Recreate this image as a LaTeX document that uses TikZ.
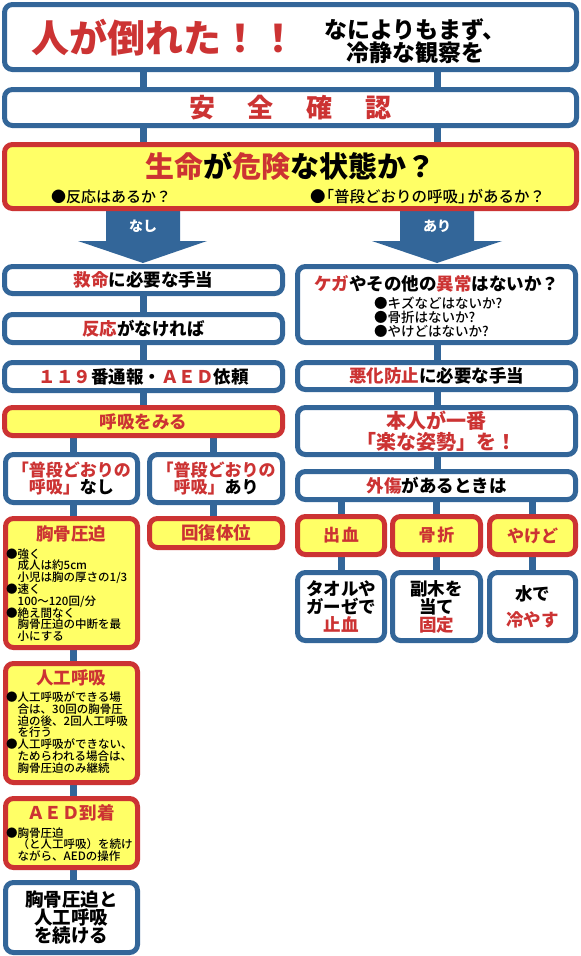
\documentclass[tikz,border=0pt]{standalone}
\usepackage{fontspec}
\setmainfont{Noto Sans CJK JP}
\IfFontExistsTF{Noto Sans CJK JP Black}{\newfontfamily\heavyfam{Noto Sans CJK JP Black}\newcommand\heavyw{\heavyfam}}{\newcommand\heavyw{\bfseries}}
\IfFontExistsTF{Noto Sans CJK JP Medium}{\newfontfamily\medfam{Noto Sans CJK JP Medium}\newcommand\medw{\medfam}}{\newcommand\medw{}}
\usetikzlibrary{backgrounds}
\definecolor{bl}{RGB}{51,102,153}
\definecolor{rd}{RGB}{204,51,51}
\definecolor{yl}{RGB}{255,255,102}
\newcommand\fsz[2]{\fontsize{#1pt}{#2pt}\selectfont}
\newcommand\rt[1]{\textcolor{rd}{#1}}
\begin{document}
\begin{tikzpicture}[x=1pt,y=-1pt,
  bbox/.style={draw=bl, fill=white, line width=5pt, rounded corners=8pt, inner sep=0pt, align=center},
  rbox/.style={draw=rd, fill=yl, line width=5pt, rounded corners=8pt, inner sep=0pt, align=center},
  conn/.style={draw=bl, line width=7pt},
  lbl/.style={inner sep=0pt, align=center},
  lblL/.style={inner sep=0pt, align=left, anchor=west},
  ttl/.style={lbl, font=\heavyw\fsz{17.5}{18}},
  bul/.style={lblL, font=\medw\fsz{11.5}{11.8}},
]
\useasboundingbox (0,0) rectangle (581,956);

% ---------- top ----------
\node[bbox, minimum width=572, minimum height=65] (top) at (290.5,37) {};
\node[lbl, text=rd, font=\heavyw\fsz{38}{38}] (topT) at (164,38) {人が倒れた！！};
\node[lbl, font=\heavyw\fsz{23}{22}] (topR) at (415,41) {なによりもまず、\\冷静な観察を};

\node[bbox, minimum width=572, minimum height=36, text=rd, font=\heavyw\fsz{26}{26}] (safe) at (290.5,107.5)
  {安\hspace{33pt}全\hspace{33pt}確\hspace{33pt}認};

\node[rbox, minimum width=572, minimum height=64] (life) at (290.5,176.5) {};
\node[lbl, font=\heavyw\fsz{29}{29}] (lifeT) at (290,166) {\rt{生命}が\rt{危険}な状態か？};
\node[lblL, font=\medw\fsz{15}{15}] (lifeA) at (51,197) {●反応はあるか？};
\node[lblL, font=\medw\fsz{15.5}{15.5}] (lifeB) at (310,197) {●\kern-0.45em「普段どおりの呼吸」\kern-0.4em があるか？};

% ---------- left column ----------
\node[bbox, minimum width=278, minimum height=27, font=\heavyw\fsz{17.5}{18}] (kyumei) at (143.5,280) {\rt{救命}に必要な手当};
\node[bbox, minimum width=278, minimum height=28, font=\heavyw\fsz{17.5}{18}] (hanno) at (143.5,328.5) {\rt{反応}がなければ};
\node[bbox, minimum width=278, minimum height=28, font=\heavyw\fsz{17.5}{18}] (tsuho) at (143.5,376.5) {\rt{１１９}番通報・\rt{ＡＥＤ}依頼};
\node[rbox, minimum width=278, minimum height=28, text=rd, font=\heavyw\fsz{17.5}{18}] (kokyu) at (143.5,421.5) {呼吸をみる};

\node[bbox, minimum width=132, minimum height=48, font=\heavyw\fsz{17}{17.5}] (nashi) at (71.5,478.5) {\rt{「普段どおりの}\\\rt{呼吸」}なし};
\node[bbox, minimum width=133, minimum height=48, font=\heavyw\fsz{17}{17.5}] (ari) at (216,478.5) {\rt{「普段どおりの}\\\rt{呼吸」}あり};

\node[rbox, minimum width=132, minimum height=129] (kyoko) at (71.5,583) {};
\node[ttl, text=rd] (kyokoT) at (71,534) {胸骨圧迫};
\node[bul] (kyokoB) at (6,595) {●強く\\
\hspace*{1em}成人は約5cm\\
\hspace*{1em}小児は胸の厚さの1/3\\
●速く\\
\hspace*{1em}100〜120回/分\\
●絶え間なく\\
\hspace*{1em}胸骨圧迫の中断を最\\
\hspace*{1em}小にする};

\node[rbox, minimum width=133, minimum height=29, text=rd, font=\heavyw\fsz{17.5}{18}] (kaifuku) at (216,533) {回復体位};

\node[rbox, minimum width=132, minimum height=119] (jinko) at (71.5,723) {};
\node[ttl, text=rd] (jinkoT) at (71,678) {人工呼吸};
\node[bul] (jinkoB) at (6,732.5) {●人工呼吸ができる場\\
\hspace*{1em}合は、30回の胸骨圧\\
\hspace*{1em}迫の後、2回人工呼吸\\
\hspace*{1em}を行う\\
●人工呼吸ができない、\\
\hspace*{1em}ためらわれる場合は、\\
\hspace*{1em}胸骨圧迫のみ継続};

\node[rbox, minimum width=132, minimum height=69] (aed) at (71.5,833) {};
\node[ttl, text=rd] (aedT) at (71,813) {ＡＥＤ到着};
\node[bul] (aedB) at (6,844.5) {●胸骨圧迫\\
\hspace*{1em}（と人工呼吸）を続け\\
\hspace*{1em}ながら、AEDの操作};

\node[bbox, minimum width=132, minimum height=70, font=\heavyw\fsz{18.5}{18}] (final) at (71.5,917.5) {胸骨圧迫と\\人工呼吸\\を続ける};

% ---------- right column ----------
\node[bbox, minimum width=278, minimum height=76] (kega) at (436.5,304.5) {};
\node[ttl] (kegaT) at (436.5,284) {\rt{ケガ}やその他の\rt{異常}はないか？};
\node[lblL, font=\medw\fsz{13.5}{14}] (kegaB) at (374,317.5) {●キズなどはないか?\\●骨折はないか?\\●やけどはないか?};

\node[bbox, minimum width=278, minimum height=27, font=\heavyw\fsz{17.5}{18}] (akka) at (436.5,376) {\rt{悪化防止}に必要な手当};
\node[bbox, minimum width=278, minimum height=47, text=rd, font=\heavyw\fsz{20}{21}] (honnin) at (436.5,431) {本人が一番\\「楽な姿勢」を！};
\node[bbox, minimum width=278, minimum height=28, font=\heavyw\fsz{17.5}{18}] (gaisho) at (436.5,485.5) {\rt{外傷}があるときは};

\node[rbox, minimum width=87, minimum height=38, text=rd, font=\heavyw\fsz{17}{17}] (shu) at (341,535.5) {出\hspace{2pt}血};
\node[rbox, minimum width=88, minimum height=38, text=rd, font=\heavyw\fsz{17}{17}] (kos) at (436.5,535.5) {骨\hspace{2pt}折};
\node[rbox, minimum width=86, minimum height=38, text=rd, font=\heavyw\fsz{17}{17}] (yak) at (532.5,535.5) {やけど};

\node[bbox, minimum width=87, minimum height=68, font=\heavyw\fsz{17.5}{18}] (shuT) at (341,606.5) {タオルや\\ガーゼで\\\rt{止血}};
\node[bbox, minimum width=88, minimum height=68, font=\heavyw\fsz{17.5}{18}] (kosT) at (436.5,606.5) {副木を\\当て\\\rt{固定}};
\node[bbox, minimum width=86, minimum height=68, font=\heavyw\fsz{17.5}{18}] (yakT) at (532.5,606.5) {水で\\[8pt]\rt{冷やす}};

% ---------- connectors & arrows ----------
\coordinate (cL) at (143,0);
\coordinate (cR) at (437,0);
\coordinate (cLa) at (73,0);
\coordinate (cLb) at (213,0);

\node[lbl, text=white, font=\bfseries\fsz{14}{14}] (nashiL) at (143,226) {なし};
\node[lbl, text=white, font=\bfseries\fsz{14}{14}] (ariL) at (437,226) {あり};

\begin{pgfonlayer}{background}
\fill[white] (0,0) rectangle (581,956);
\draw[conn] (top.south -| cL) -- (safe.north -| cL);
\draw[conn] (top.south -| cR) -- (safe.north -| cR);
\draw[conn] (safe.south -| cL) -- (life.north -| cL);
\draw[conn] (safe.south -| cR) -- (life.north -| cR);

\path (life.south -| cL) coordinate (aLs) (kyumei.north -| cL) coordinate (aLe);
\path (life.south -| cR) coordinate (aRs) (kega.north -| cR) coordinate (aRe);
\fill[bl] ([xshift=-37pt]aLs) -- ([xshift=37pt]aLs) -- ([xshift=37pt,yshift=-30pt]aLs) -- ([xshift=64pt,yshift=-30pt]aLs)
  -- ([yshift=1pt]aLe) -- ([xshift=-65pt,yshift=-30pt]aLs) -- ([xshift=-37pt,yshift=-30pt]aLs) -- cycle;
\fill[bl] ([xshift=-37pt]aRs) -- ([xshift=37pt]aRs) -- ([xshift=37pt,yshift=-30pt]aRs) -- ([xshift=65pt,yshift=-30pt]aRs)
  -- ([yshift=1pt]aRe) -- ([xshift=-65pt,yshift=-30pt]aRs) -- ([xshift=-37pt,yshift=-30pt]aRs) -- cycle;

\draw[conn] (kyumei.south -| cL) -- (hanno.north -| cL);
\draw[conn] (hanno.south -| cL) -- (tsuho.north -| cL);
\draw[conn] (tsuho.south -| cL) -- (kokyu.north -| cL);
\draw[conn] (kokyu.south -| cLa) -- (nashi.north -| cLa);
\draw[conn] (kokyu.south -| cLb) -- (ari.north -| cLb);
\draw[conn] (nashi.south -| cLa) -- (kyoko.north -| cLa);
\draw[conn] (ari.south -| cLb) -- (kaifuku.north -| cLb);
\draw[conn] (kyoko.south -| cLa) -- (jinko.north -| cLa);
\draw[conn] (jinko.south -| cLa) -- (aed.north -| cLa);
\draw[conn] (aed.south -| cLa) -- (final.north -| cLa);

\draw[conn] (kega.south -| cR) -- (akka.north -| cR);
\draw[conn] (akka.south -| cR) -- (honnin.north -| cR);
\draw[conn] (honnin.south -| cR) -- (gaisho.north -| cR);
\draw[conn] (gaisho.south -| shu.north) -- (shu.north);
\draw[conn] (gaisho.south -| kos.north) -- (kos.north);
\draw[conn] (gaisho.south -| yak.north) -- (yak.north);
\draw[conn] (shu.south) -- (shuT.north);
\draw[conn] (kos.south) -- (kosT.north);
\draw[conn] (yak.south) -- (yakT.north);
\end{pgfonlayer}
\end{tikzpicture}
\end{document}
